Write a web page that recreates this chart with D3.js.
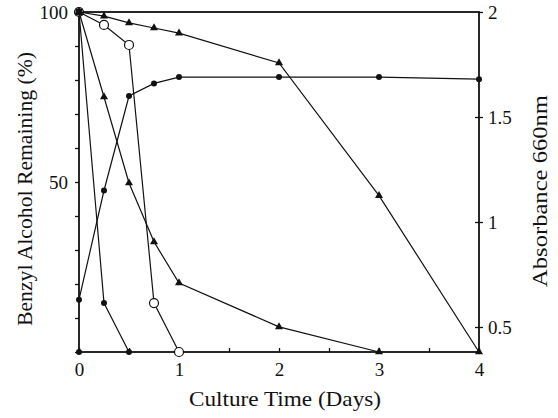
<!DOCTYPE html>
<html>
<head>
<meta charset="utf-8">
<script src="https://cdn.jsdelivr.net/npm/d3@7"></script>
<style>
  html, body { margin: 0; padding: 0; background: #fff; }
  svg text { font-family: "Liberation Serif", "Times New Roman", serif; fill: #111; }
  .line { fill: none; stroke: #111; stroke-width: 1.2; }
  .frame { stroke: #111; stroke-width: 1.8; }
</style>
</head>
<body>
<div id="chart"></div>
<script>
// Benzyl alcohol remaining (%) and absorbance at 660nm vs culture time

// Time points (days)
const daysLong = [0, 0.25, 0.5, 0.75, 1, 2, 3, 4];
const daysMedium = [0, 0.25, 0.5, 0.75, 1, 2, 3];
const daysShort = [0, 0.25, 0.5, 0.75, 1];
const daysFast = [0, 0.25, 0.5];

// Remaining benzyl alcohol (%), left axis
const slowTriangle = [100, 98.8, 96.8, 95.3, 93.8, 85, 46, 0];
const mediumTriangle = [100, 75, 49.7, 32.4, 20.3, 7.4, 0];
const openCircle = [100, 96.2, 90.3, 14.4, 0];
const fastCircle = [100, 14.4, 0];
const baselinePoint = [0];

// Absorbance 660nm, right axis
const absorbance = [0.63, 1.15, 1.6, 1.66, 1.69, 1.69, 1.69, 1.68];

// Tick labels
const xTickLabels = [0, 1, 2, 3, 4];
const leftTickLabels = [50, 100];
const rightTickLabels = [0.5, 1, 1.5, 2];

const W = 558, H = 418;
const plot = {left: 79, right: 479, top: 12, bottom: 352};

const svg = d3.select('#chart').append('svg')
    .attr('width', W)
    .attr('height', H);

const x = d3.scaleLinear().domain([0, 4]).range([plot.left, plot.right]);
const yL = d3.scaleLinear().domain([0, 100]).range([plot.bottom, plot.top]);
const yR = d3.scaleLinear().domain([0.381, 2]).range([plot.bottom, plot.top]);

// Left axis: ticks every 10, labels at 50 and 100
const leftAxis = d3.axisLeft(yL)
    .tickValues(d3.range(0, 101, 10))
    .tickSize(4)
    .tickFormat(d => leftTickLabels.includes(d) ? d : '');
const gL = svg.append('g').attr('transform', `translate(${plot.left},0)`).call(leftAxis);
gL.select('.domain').remove();
gL.selectAll('.tick line').attr('stroke', '#111').attr('stroke-width', 1.3);
gL.selectAll('.tick text').attr('x', -11).attr('dy', '0.36em').style('font-size', '19px');

// Right axis: crossed ticks
const rightAxis = d3.axisRight(yR)
    .tickValues(rightTickLabels)
    .tickSize(4)
    .tickFormat(d => d);
const gR = svg.append('g').attr('transform', `translate(${plot.right},0)`).call(rightAxis);
gR.select('.domain').remove();
gR.selectAll('.tick line').attr('x1', d => d === 2 ? 0 : -4).attr('stroke', '#111').attr('stroke-width', 1.3);
gR.selectAll('.tick text').attr('x', 9).attr('dy', '0.36em').style('font-size', '19px');

// Bottom axis: inward ticks every half day
const bottomAxis = d3.axisBottom(x)
    .tickValues(d3.range(0, 4.01, 0.5))
    .tickSize(-4)
    .tickFormat(d => xTickLabels.includes(d) ? d : '');
const gB = svg.append('g').attr('transform', `translate(0,${plot.bottom})`).call(bottomAxis);
gB.select('.domain').remove();
gB.selectAll('.tick line').attr('stroke', '#111').attr('stroke-width', 1.3);
gB.selectAll('.tick text').attr('y', 11).attr('dy', '0.71em').style('font-size', '19px');

// Frame
svg.append('rect')
    .attr('class', 'frame')
    .attr('x', plot.left)
    .attr('y', plot.top)
    .attr('width', plot.right - plot.left)
    .attr('height', plot.bottom - plot.top)
    .attr('fill', 'none');

// Series (open circles first so filled markers sit on top at the origin)
const series = [
    {days: daysShort, values: openCircle, scale: yL, marker: 'open'},
    {days: daysLong, values: slowTriangle, scale: yL, marker: 'triangle'},
    {days: daysMedium, values: mediumTriangle, scale: yL, marker: 'triangle'},
    {days: daysFast, values: fastCircle, scale: yL, marker: 'dot'},
    {days: [0], values: baselinePoint, scale: yL, marker: 'dot'},
    {days: daysLong, values: absorbance, scale: yR, marker: 'dot'}
];

const triangle = d3.symbol().type(d3.symbolTriangle).size(28);

series.forEach(s => {
    const pts = s.days.map((d, i) => [d, s.values[i]]);
    const line = d3.line()
        .x(d => x(d[0]))
        .y(d => s.scale(d[1]));

    if (pts.length > 1) {
        svg.append('path')
            .datum(pts)
            .attr('class', 'line')
            .attr('d', line);
    }

    const g = svg.append('g');
    pts.forEach(p => {
        const cx = x(p[0]), cy = s.scale(p[1]);
        if (s.marker === 'triangle') {
            g.append('path')
                .attr('d', triangle())
                .attr('transform', `translate(${cx},${cy})`)
                .attr('fill', '#111');
        } else if (s.marker === 'open') {
            g.append('circle')
                .attr('cx', cx).attr('cy', cy).attr('r', 4.5)
                .attr('fill', '#fff')
                .attr('stroke', '#111')
                .attr('stroke-width', 1.2);
        } else {
            g.append('circle')
                .attr('cx', cx).attr('cy', cy).attr('r', 3)
                .attr('fill', '#111');
        }
    });
});

// Origin marker drawn as a filled square, as in the source figure
svg.append('rect')
    .attr('x', x(0) - 3.5)
    .attr('y', yL(100) - 3.5)
    .attr('width', 7)
    .attr('height', 7)
    .attr('fill', '#111');

// Axis titles
svg.append('text')
    .attr('transform', 'translate(32,189) rotate(-90)')
    .attr('text-anchor', 'middle')
    .attr('textLength', 274)
    .attr('lengthAdjust', 'spacingAndGlyphs')
    .style('font-size', '21px')
    .text('Benzyl Alcohol Remaining (%)');

svg.append('text')
    .attr('transform', 'translate(547,191) rotate(-90)')
    .attr('text-anchor', 'middle')
    .attr('textLength', 192)
    .attr('lengthAdjust', 'spacingAndGlyphs')
    .style('font-size', '21px')
    .text('Absorbance 660nm');

svg.append('text')
    .attr('x', 285)
    .attr('y', 406)
    .attr('text-anchor', 'middle')
    .attr('textLength', 192)
    .attr('lengthAdjust', 'spacingAndGlyphs')
    .style('font-size', '21px')
    .text('Culture Time (Days)');
</script>
</body>
</html>
